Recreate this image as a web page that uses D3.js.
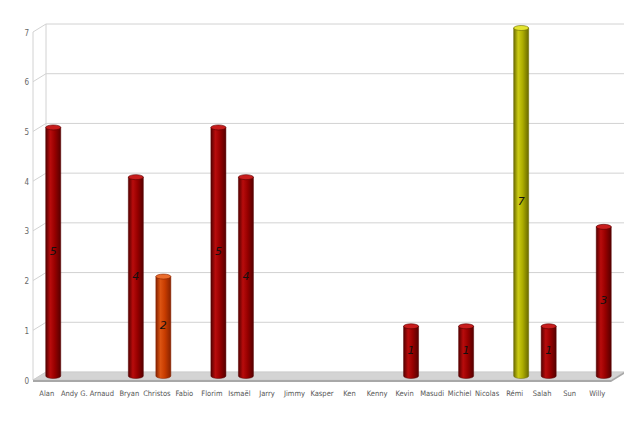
<!DOCTYPE html>
<html>
<head>
<meta charset="utf-8">
<script src="https://cdn.jsdelivr.net/npm/d3@7"></script>
<style>
  body { margin: 0; background: #fff; }
  svg { display: block; }
</style>
</head>
<body>
<svg id="chart" width="640" height="426"></svg>
<script>
// data
const names = ["Alan", "Andy G.", "Arnaud", "Bryan", "Christos", "Fabio", "Florim", "Ismaël",
  "Jarry", "Jimmy", "Kasper", "Ken", "Kenny", "Kevin", "Masudi", "Michiel", "Nicolas",
  "Rémi", "Salah", "Sun", "Willy"];
const counts = [5, 0, 0, 4, 2, 0, 5, 4, 0, 0, 0, 0, 0, 1, 0, 1, 0, 7, 1, 0, 3];
const yTicks = [0, 1, 2, 3, 4, 5, 6, 7];

const svg = d3.select("#chart");

// fake 3d: depth offset from front to back wall
const depthX = 13, depthY = -8;

// front edge of the floor
const x = d3.scaleBand().domain(names).range([33, 611]);
// back wall
const y = d3.scaleLinear().domain([0, 7]).range([372, 24]);

// bar colours: [edge, mid, highlight, top]
function barColors(name) {
  if (name === "Rémi") return ["#6a6a00", "#adad00", "#cccc14", "#e4e430"];
  if (name === "Christos") return ["#862200", "#c83c00", "#dc5412", "#ea6c2c"];
  return ["#560000", "#980000", "#b80c0c", "#c81c1c"];
}

const defs = svg.append("defs");
names.forEach((n, i) => {
  const c = barColors(n);
  const g = defs.append("linearGradient").attr("id", "cyl" + i)
    .attr("x1", 0).attr("x2", 1).attr("y1", 0).attr("y2", 0);
  g.append("stop").attr("offset", "0%").attr("stop-color", c[0]);
  g.append("stop").attr("offset", "30%").attr("stop-color", c[2]);
  g.append("stop").attr("offset", "60%").attr("stop-color", c[1]);
  g.append("stop").attr("offset", "100%").attr("stop-color", c[0]);
});

const wall = svg.append("g").attr("stroke", "#d2d2d2").attr("fill", "none");
const x0 = x.range()[0], x1 = x.range()[1];

// left wall front edge + back wall left edge
wall.append("line").attr("x1", x0).attr("x2", x0)
  .attr("y1", y(7) - depthY).attr("y2", y(0) - depthY);
wall.append("line").attr("x1", x0 + depthX).attr("x2", x0 + depthX)
  .attr("y1", y(7)).attr("y2", y(0));

// gridlines on back wall and slants on the left wall
yTicks.forEach(t => {
  wall.append("line").attr("x1", x0 + depthX).attr("x2", x1 + depthX)
    .attr("y1", y(t)).attr("y2", y(t));
  wall.append("line").attr("x1", x0).attr("x2", x0 + depthX)
    .attr("y1", y(t) - depthY).attr("y2", y(t));
});

// floor
const fy = y(0);
svg.append("path")
  .attr("d", `M${x0},${fy - depthY} L${x0 + depthX},${fy} L${x1 + depthX},${fy} L${x1},${fy - depthY} Z`)
  .attr("fill", "#d4d4d4").attr("stroke", "#c4c4c4").attr("stroke-width", 0.5);
svg.append("path")
  .attr("d", `M${x0},${fy - depthY} L${x1},${fy - depthY} L${x1 + depthX},${fy} L${x1 + depthX},${fy + 2} L${x1},${fy - depthY + 2} L${x0},${fy - depthY + 2} Z`)
  .attr("fill", "#a8a8a8");

// text groups: slight opacity keeps the glyphs grey instead of colour fringed
const labels = svg.append("g").attr("opacity", 0.99);

// y tick labels on the front edge
labels.append("g").selectAll("text").data(yTicks).join("text")
  .attr("x", x0 - 4).attr("y", d => y(d) - depthY + 1)
  .attr("text-anchor", "end").attr("dominant-baseline", "middle")
  .attr("font-family", "Liberation Sans Narrow, DejaVu Sans Condensed, sans-serif")
  .attr("font-size", 8).attr("fill", "#666")
  .text(d => d);

// category labels
labels.append("g").selectAll("text").data(names).join("text")
  .attr("x", d => x(d) + x.bandwidth() / 2).attr("y", 396)
  .attr("text-anchor", "middle")
  .attr("font-family", "Liberation Sans Narrow, DejaVu Sans Condensed, sans-serif")
  .attr("font-size", 7.5).attr("fill", "#555")
  .text(d => d);

// cylinders at mid depth
const bw = 15, ry = 2.5;
const bars = svg.append("g").selectAll("g").data(names.map((n, i) => ({ n, v: counts[i], i })).filter(d => d.v > 0))
  .join("g");

bars.each(function (d) {
  const g = d3.select(this);
  const cx = x(d.n) + x.bandwidth() / 2 + depthX / 2;
  const top = y(d.v) - depthY / 2;
  const bot = y(0) - depthY / 2;
  const c = barColors(d.n);
  g.append("path")
    .attr("d", `M${cx - bw / 2},${top} L${cx - bw / 2},${bot} A${bw / 2},${ry} 0 0 0 ${cx + bw / 2},${bot} L${cx + bw / 2},${top} Z`)
    .attr("fill", `url(#cyl${d.i})`).attr("stroke", c[0]).attr("stroke-width", 0.5);
  g.append("ellipse").attr("cx", cx).attr("cy", top).attr("rx", bw / 2).attr("ry", ry)
    .attr("fill", c[3]).attr("stroke", c[0]).attr("stroke-width", 0.6);
  g.append("text")
    .attr("x", cx).attr("y", (top + bot) / 2)
    .attr("text-anchor", "middle").attr("dominant-baseline", "middle")
    .attr("font-family", "DejaVu Sans, sans-serif").attr("font-style", "italic")
    .attr("font-size", 11).attr("fill", "#111")
    .text(d.v);
});
</script>
</body>
</html>
